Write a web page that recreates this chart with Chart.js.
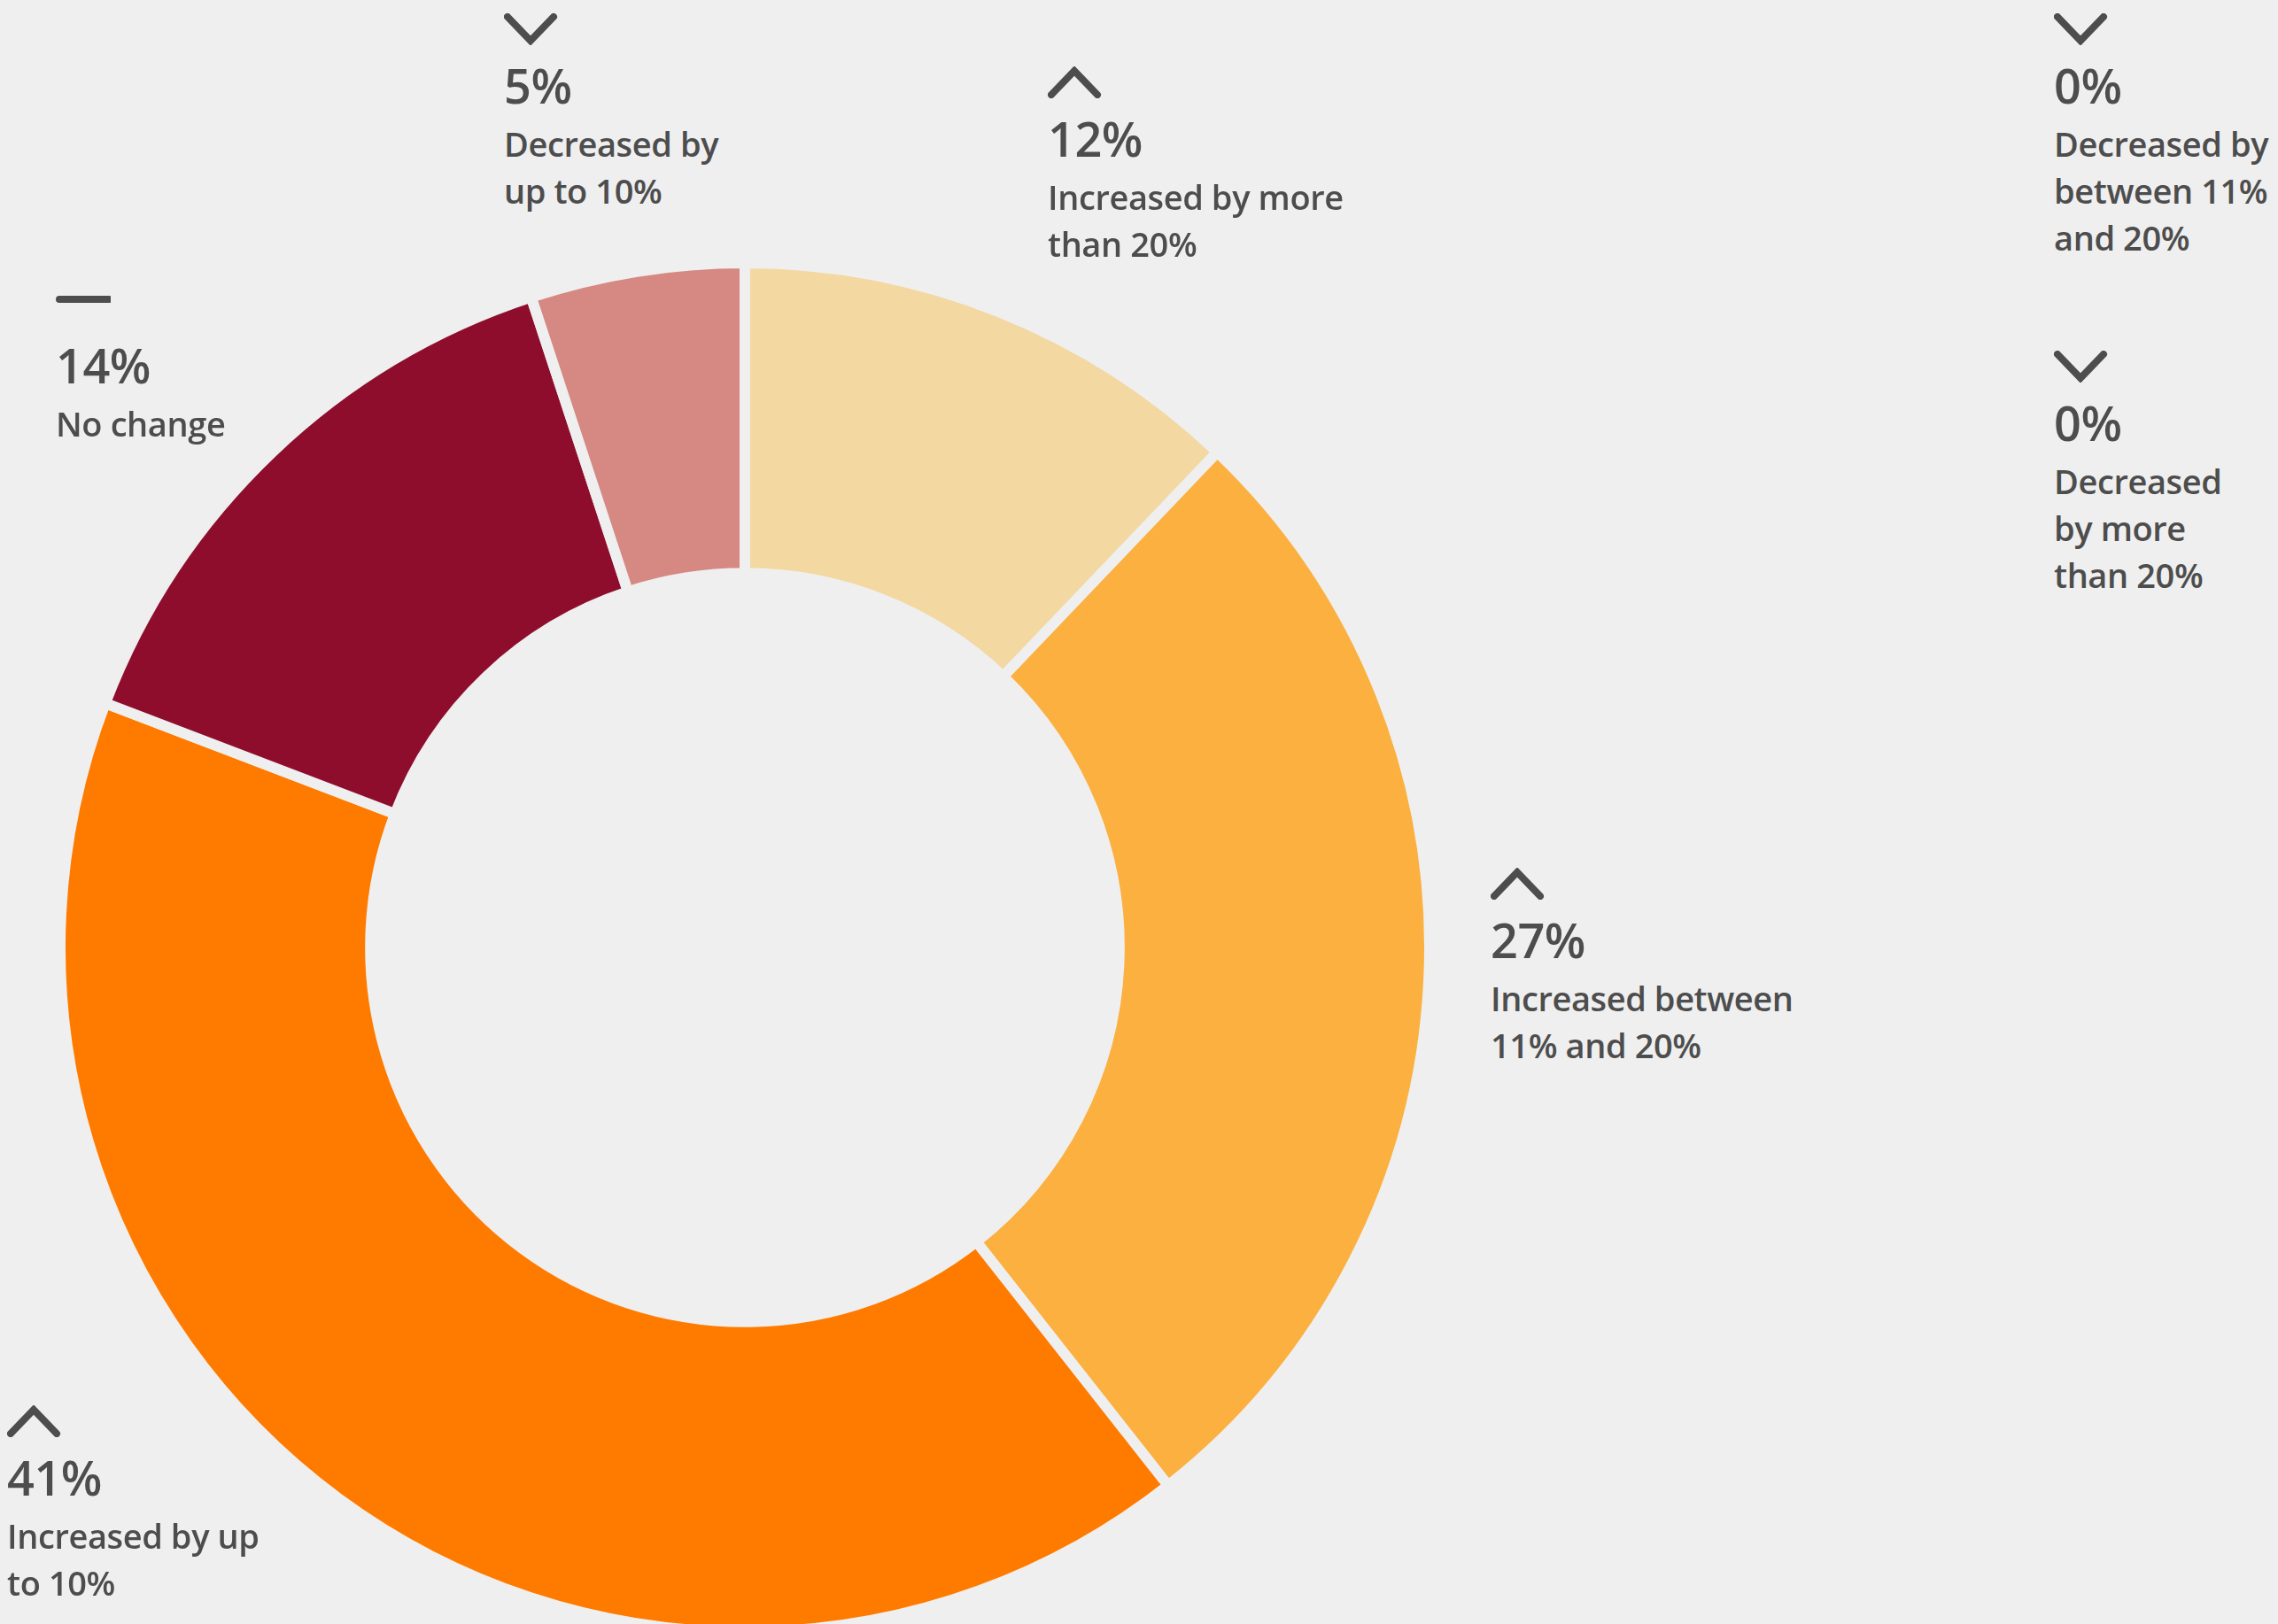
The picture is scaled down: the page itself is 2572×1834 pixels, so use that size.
<!DOCTYPE html>
<html>
<head>
<meta charset="utf-8">
<script src="https://cdn.jsdelivr.net/npm/chart.js@4"></script>
<style>
  html, body { margin:0; padding:0; background:#efefef; width:2572px; height:1834px; overflow:hidden; }
  #wrap { position:absolute; left:62px; top:291px; width:1558px; height:1558px; }
  .blk { position:absolute; font-family:"Open Sans", sans-serif; color:#4d4d4d; }
  .blk svg { display:block; }
  .pct { font-size:54px; font-weight:600; line-height:60px; margin-top:15px; letter-spacing:-0.5px; }
  .lbl { font-size:38px; font-weight:600; line-height:53px; margin-top:10px; white-space:pre-line; letter-spacing:-0.4px; }
</style>
</head>
<body>
<div id="wrap"><canvas id="c" width="1558" height="1558"></canvas></div>
<script>
// ---- data ----
const categories = [
  "Increased by more\nthan 20%",
  "Increased between\n11% and 20%",
  "Increased by up\nto 10%",
  "No change",
  "Decreased by\nup to 10%",
  "Decreased by\nbetween 11%\nand 20%",
  "Decreased\nby more\nthan 20%"
];
const values = [12, 27, 41, 14, 5, 0, 0];
const directions = ["up", "up", "up", "none", "down", "down", "down"];
const colors = ["#F3D8A1", "#FBB040", "#FF7B00", "#8E0D2D", "#D68882", "#D9D9D9", "#BFBFBF"];

// ---- label layout (left, top of each annotation block) ----
const labelPos = [[1183, 75], [1683, 980], [8, 1587], [63, 331], [569, 15], [2319, 15], [2319, 396]];

new Chart(document.getElementById('c'), {
  type: 'doughnut',
  data: {
    labels: categories,
    datasets: [{
      data: values,
      backgroundColor: colors,
      borderColor: '#efefef',
      borderWidth: 12,
      hoverOffset: 0
    }]
  },
  options: {
    responsive: false,
    animation: false,
    cutout: '54.7%',
    layout: { padding: 0 },
    plugins: { legend: { display: false }, tooltip: { enabled: false } }
  }
});

function icon(dir) {
  const s = 'stroke="#4d4d4d" stroke-width="8" stroke-linecap="round" stroke-linejoin="miter" fill="none"';
  if (dir === 'up') return `<svg width="62" height="36"><polyline points="4,32 30,5 56,32" ${s}/></svg>`;
  if (dir === 'down') return `<svg width="62" height="36"><polyline points="4,4 30,31 56,4" ${s}/></svg>`;
  return `<svg width="62" height="36"><line x1="4" y1="7" x2="60" y2="7" ${s}/></svg>`;
}

categories.forEach((cat, i) => {
  const d = document.createElement('div');
  d.className = 'blk';
  d.style.left = labelPos[i][0] + 'px';
  d.style.top = labelPos[i][1] + 'px';
  d.innerHTML = icon(directions[i]) +
    `<div class="pct">${values[i]}%</div><div class="lbl"></div>`;
  d.querySelector('.lbl').textContent = cat;
  document.body.appendChild(d);
});
</script>
</body>
</html>
